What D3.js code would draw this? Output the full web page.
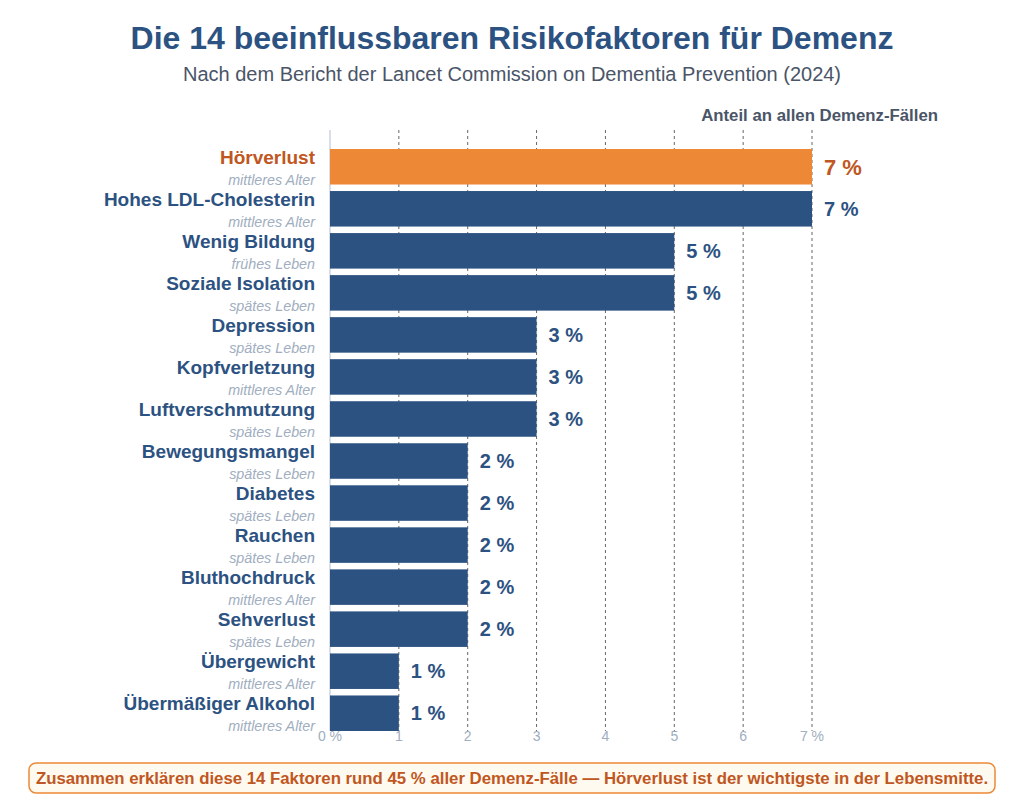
<!DOCTYPE html>
<html>
<head>
<meta charset="utf-8">
<script src="https://cdn.jsdelivr.net/npm/d3@7"></script>
<style>
  body { margin: 0; background: #fff; }
  text { font-family: "Liberation Sans", Arial, sans-serif; }
</style>
</head>
<body>
<div id="chart"></div>
<script>
// data
let factors = ["Hörverlust", "Hohes LDL-Cholesterin", "Wenig Bildung", "Soziale Isolation",
  "Depression", "Kopfverletzung", "Luftverschmutzung", "Bewegungsmangel", "Diabetes",
  "Rauchen", "Bluthochdruck", "Sehverlust", "Übergewicht", "Übermäßiger Alkohol"];
let shares = [7, 7, 5, 5, 3, 3, 3, 2, 2, 2, 2, 2, 1, 1];
let lifePhase = ["mittleres Alter", "mittleres Alter", "frühes Leben", "spätes Leben",
  "spätes Leben", "mittleres Alter", "spätes Leben", "spätes Leben", "spätes Leben",
  "spätes Leben", "mittleres Alter", "spätes Leben", "mittleres Alter", "mittleres Alter"];
let xTicks = [0, 1, 2, 3, 4, 5, 6, 7];

let blue = "#2c5282", orange = "#ed8936", darkOrange = "#c05621";

let svg = d3.select("#chart")
  .append("svg")
  .attr("width", 1024)
  .attr("height", 800);

// titles
svg.append("text")
  .attr("x", 512).attr("y", 49)
  .attr("text-anchor", "middle")
  .style("font-size", "32px").style("font-weight", "bold")
  .style("fill", blue)
  .text("Die 14 beeinflussbaren Risikofaktoren für Demenz");

svg.append("text")
  .attr("x", 512).attr("y", 81)
  .attr("text-anchor", "middle")
  .style("font-size", "20px")
  .style("fill", "#4a5568")
  .text("Nach dem Bericht der Lancet Commission on Dementia Prevention (2024)");

svg.append("text")
  .attr("x", 938).attr("y", 121)
  .attr("text-anchor", "end")
  .style("font-size", "16.8px").style("font-weight", "bold")
  .style("fill", "#4a5568")
  .text("Anteil an allen Demenz-Fällen");

let x = d3.scaleLinear().domain([0, 7]).range([330, 812]);
let y = d3.scaleBand().domain(factors).range([149, 731]).paddingInner(0.155).paddingOuter(0);

// grid
svg.selectAll(".grid")
  .data(xTicks.filter(d => d > 0))
  .enter().append("line")
  .attr("x1", d => x(d)).attr("x2", d => x(d))
  .attr("y1", 130).attr("y2", 731)
  .style("stroke", "#666")
  .style("stroke-width", 1)
  .style("stroke-dasharray", "3,3");

svg.append("line")
  .attr("x1", x(0)).attr("x2", x(0))
  .attr("y1", 130).attr("y2", 731)
  .style("stroke", "#cbd5e0")
  .style("stroke-width", 1.5);

// tick labels
svg.selectAll(".tick")
  .data(xTicks)
  .enter().append("text")
  .attr("x", d => x(d)).attr("y", 741)
  .attr("text-anchor", "middle")
  .style("font-size", "14px")
  .style("fill", "#a0aec0")
  .text(d => (d == 0 || d == 7) ? d + " %" : d);

// bars
svg.selectAll(".bar")
  .data(factors)
  .enter().append("rect")
  .attr("x", x(0))
  .attr("y", d => y(d))
  .attr("width", (d, i) => x(shares[i]) - x(0))
  .attr("height", y.bandwidth())
  .style("fill", (d, i) => i == 0 ? orange : blue);

// category labels
svg.selectAll(".lab")
  .data(factors)
  .enter().append("text")
  .attr("x", 315)
  .attr("y", d => y(d) + y.bandwidth() / 2 - 3)
  .attr("text-anchor", "end")
  .style("font-size", "19px").style("font-weight", "bold")
  .style("fill", (d, i) => i == 0 ? darkOrange : blue)
  .text(d => d);

svg.selectAll(".sub")
  .data(factors)
  .enter().append("text")
  .attr("x", 315)
  .attr("y", d => y(d) + y.bandwidth() / 2 + 18)
  .attr("text-anchor", "end")
  .style("font-size", "14.3px").style("font-style", "italic")
  .style("fill", "#a0aec0")
  .text((d, i) => lifePhase[i]);

// value labels
svg.selectAll(".val")
  .data(factors)
  .enter().append("text")
  .attr("x", (d, i) => x(shares[i]) + 12)
  .attr("y", (d, i) => y(d) + y.bandwidth() / 2 + (i == 0 ? 8 : 7))
  .style("font-size", (d, i) => i == 0 ? "22px" : "20px")
  .style("font-weight", "bold")
  .style("fill", (d, i) => i == 0 ? darkOrange : blue)
  .text((d, i) => shares[i] + " %");

// footer
svg.append("rect")
  .attr("x", 29).attr("y", 763)
  .attr("width", 966).attr("height", 30)
  .attr("rx", 7)
  .style("fill", "#fffaf0")
  .style("stroke", orange)
  .style("stroke-width", 1.5);

svg.append("text")
  .attr("x", 512).attr("y", 784)
  .attr("text-anchor", "middle")
  .style("font-size", "16.8px").style("font-weight", "bold")
  .style("fill", darkOrange)
  .text("Zusammen erklären diese 14 Faktoren rund 45 % aller Demenz-Fälle — Hörverlust ist der wichtigste in der Lebensmitte.");
</script>
</body>
</html>
